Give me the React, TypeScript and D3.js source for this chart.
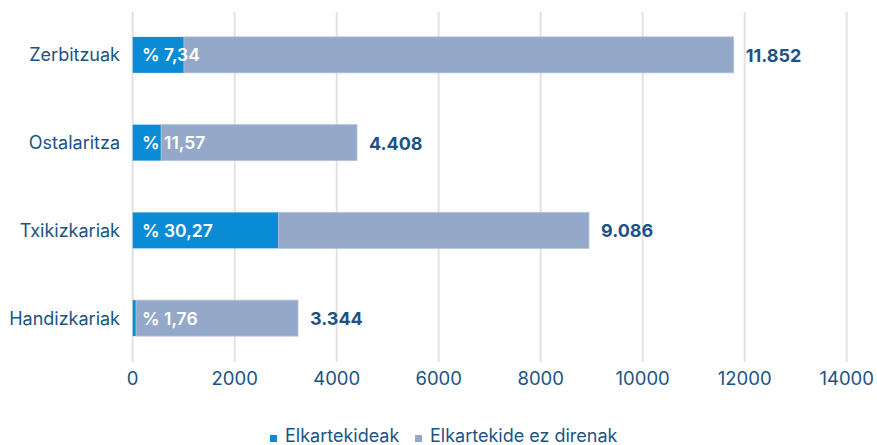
import React from "react";
import * as d3 from "d3";

const categories = ["Zerbitzuak", "Ostalaritza", "Txikizkariak", "Handizkariak"];
const members = [1005, 557, 2863, 65];
const nonMembers = [10780, 3841, 6084, 3176];
const pctLabels = ["% 7,34", "% 11,57", "% 30,27", "% 1,76"];
const totalLabels = ["11.852", "4.408", "9.086", "3.344"];
const xTicks = [0, 2000, 4000, 6000, 8000, 10000, 12000, 14000];
const seriesNames = ["Elkartekideak", "Elkartekide ez direnak"];

const W = 877;
const H = 445;
const BLUE = "#0a8cd5";
const GREY = "#94a9c9";
const TEXT = "#1b5386";
const FONT = "Inter, 'Noto Sans', sans-serif";

export default function App() {
  const x = d3.scaleLinear().domain([0, 14000]).range([132.7, 846.7]);
  const y = d3
    .scaleBand<string>()
    .domain(categories)
    .range([11, 362])
    .paddingInner(0.59)
    .paddingOuter(0.295);
  const bw = y.bandwidth();

  return (
    <svg
      width={W}
      height={H}
      style={{ position: "absolute", left: 0, top: 0, fontFamily: FONT }}
    >
      {xTicks.map((t) => (
        <line
          key={t}
          x1={x(t)}
          x2={x(t)}
          y1={12}
          y2={362}
          stroke="#e2e2e2"
          strokeWidth={2}
        />
      ))}
      {xTicks.map((t) => (
        <text
          key={"l" + t}
          x={x(t)}
          y={384.5}
          textAnchor="middle"
          fontSize={18.5}
          fill={TEXT}
        >
          {t}
        </text>
      ))}
      {categories.map((c, i) => {
        const y0 = y(c)!;
        const m = members[i];
        const n = nonMembers[i];
        return (
          <g key={c}>
            <rect
              x={x(0)}
              y={y0}
              width={x(m) - x(0)}
              height={bw}
              fill={BLUE}
            />
            <rect
              x={x(m)}
              y={y0}
              width={x(m + n) - x(m)}
              height={bw}
              fill={GREY}
              stroke="#b4c3da"
              strokeWidth={0.8}
            />
            <text
              x={120}
              y={y0 + bw / 2 + 6.5}
              textAnchor="end"
              fontSize={18}
              fill={TEXT}
            >
              {c}
            </text>
            <text
              x={142}
              y={y0 + bw / 2 + 6.5}
              fontSize={17.5}
              fontWeight={600}
              fill="#ffffff"
            >
              {pctLabels[i]}
            </text>
            <text
              x={x(m + n) + 12}
              y={y0 + bw / 2 + 7}
              fontSize={18}
              fontWeight={700}
              fill={TEXT}
            >
              {totalLabels[i]}
            </text>
          </g>
        );
      })}
      <g>
        <rect x={270} y={435} width={7} height={7} fill={BLUE} />
        <text x={285} y={442} fontSize={18} fill={TEXT}>
          {seriesNames[0]}
        </text>
        <rect x={415} y={435} width={7} height={7} fill={GREY} />
        <text x={430} y={442} fontSize={18} fill={TEXT}>
          {seriesNames[1]}
        </text>
      </g>
    </svg>
  );
}
